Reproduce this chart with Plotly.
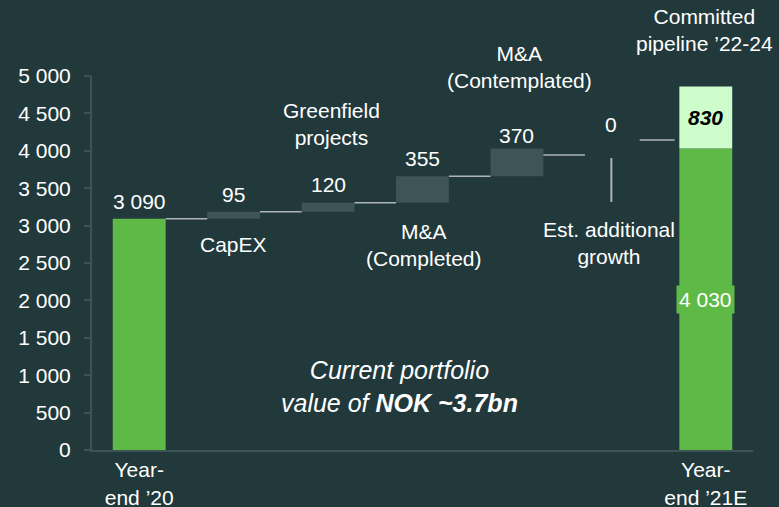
import plotly.graph_objects as go

# ---------- data ----------
categories = ["Year-end '20", "CapEX", "Greenfield projects", "M&A (Completed)",
              "M&A (Contemplated)", "Est. additional growth", "Year-end '21E"]
start_value = 3090
deltas = [95, 120, 355, 370, 0]
end_value = 4030
pipeline = 830

value_labels = ["3 090", "95", "120", "355", "370", "0"]
x_ticktext = ["Year-<br>end ’20", "Year-<br>end ’21E"]

BG = "#22393c"
GREEN = "#5fb946"
LIGHT = "#ccfdcb"
DELTA = "#3d5556"
AXIS = "#3d5457"
CONN = "#aeb4b4"
FONT = "Liberation Sans, Arial, sans-serif"
W = 0.56

# cumulative levels for floating bars
bases = []
level = start_value
for d in deltas:
    bases.append(level)
    level += d

fig = go.Figure()
fig.add_trace(go.Bar(x=[categories[0], categories[-1]], y=[start_value, end_value],
                     marker=dict(color=GREEN, line=dict(width=0)), width=W))
fig.add_trace(go.Bar(x=categories[1:-1], y=deltas, base=bases,
                     marker=dict(color=DELTA, line=dict(width=0)), width=W))
fig.add_trace(go.Bar(x=[categories[-1]], y=[pipeline], base=[end_value],
                     marker=dict(color=LIGHT, line=dict(width=0)), width=W))

# connector lines
levels = [start_value] + [b + d for b, d in zip(bases, deltas)]
for i in range(4):
    fig.add_shape(type="line", xref="x", yref="y", x0=i + W / 2, x1=i + 1 - W / 2,
                  y0=levels[i], y1=levels[i], line=dict(color=CONN, width=1.5))
fig.add_shape(type="line", xref="x", yref="y", x0=4 + W / 2, x1=4.72,
              y0=levels[4] - 85, y1=levels[4] - 85, line=dict(color=CONN, width=1.5))
fig.add_shape(type="line", xref="x", yref="y", x0=5.3, x1=5.67,
              y0=levels[4] + 115, y1=levels[4] + 115, line=dict(color=CONN, width=1.5))
fig.add_shape(type="line", xref="x", yref="y", x0=5, x1=5,
              y0=3316, y1=3904, line=dict(color=CONN, width=2))

white = dict(family=FONT, size=21, color="#ffffff")
ann = []
# value labels above bars
tops = [start_value] + [b + d for b, d in zip(bases, deltas)]
shifts = [17, 17, 18, 18, 13]
for i in range(5):
    ann.append(dict(x=i, y=tops[i], text=value_labels[i], yshift=shifts[i]))
ann.append(dict(x=5, y=4345, text=value_labels[5]))

# category labels
ann += [
    dict(x=1, y=2741, text="CapEX"),
    dict(x=2.04, y=4365, text="Greenfield<br>projects"),
    dict(x=3.02, y=2747, text="M&A<br>(Completed)"),
    dict(x=4.98, y=2761, text="Est. additional<br>growth"),
]
for a in ann:
    a.update(xref="x", yref="y")

# labels above the plot area (paper y)
ann += [
    dict(x=-0.51, y=1.115, xref="x", yref="paper", text="NOKm"),
    dict(x=4.03, y=1.025, xref="x", yref="paper", text="M&A<br>(Contemplated)"),
    dict(x=5.99, y=1.123, xref="x", yref="paper", text="Committed<br>pipeline ’22-24"),
]
for a in ann:
    a.update(showarrow=False, font=white, xanchor="center", yanchor="middle")

ann.append(dict(x=6, y=end_value / 2, xref="x", yref="y", showarrow=False,
                text=f"{end_value:,}".replace(",", " "), font=white,
                bgcolor=GREEN, borderpad=2))
ann.append(dict(x=6, y=end_value + pipeline / 2, xref="x", yref="y", showarrow=False,
                text=f"<b><i>{pipeline}</i></b>",
                font=dict(family=FONT, size=21, color="#000000")))
ann.append(dict(x=2.76, y=849, xref="x", yref="y", showarrow=False,
                text="<i>Current portfolio<br>value of <b>NOK ~3.7bn</b></i>",
                font=dict(family=FONT, size=25, color="#ffffff")))

fig.update_layout(
    width=779, height=507,
    margin=dict(l=92, r=26, t=76, b=57),
    paper_bgcolor=BG, plot_bgcolor=BG,
    barmode="overlay", showlegend=False,
    annotations=ann,
    font=white,
)
fig.update_xaxes(type="category", categoryorder="array", categoryarray=categories,
                 range=[-0.5, 6.5], tickvals=[categories[0], categories[-1]],
                 ticktext=x_ticktext, showline=True, linecolor=AXIS, linewidth=2,
                 ticks="", showgrid=False, zeroline=False, automargin=False,
                 tickfont=white)
fig.update_yaxes(range=[0, 5000], tickvals=list(range(0, 5001, 500)),
                 ticktext=[f"{v:,}".replace(",", " ") for v in range(0, 5001, 500)],
                 showline=True, linecolor=AXIS, linewidth=2, ticks="outside",
                 ticklen=6, tickcolor=AXIS, tickwidth=2, ticklabelstandoff=9,
                 showgrid=False, zeroline=False, automargin=False, tickfont=white)

fig.write_html("out.html", config={"displayModeBar": False},
               post_script="document.body.style.margin='0';")
